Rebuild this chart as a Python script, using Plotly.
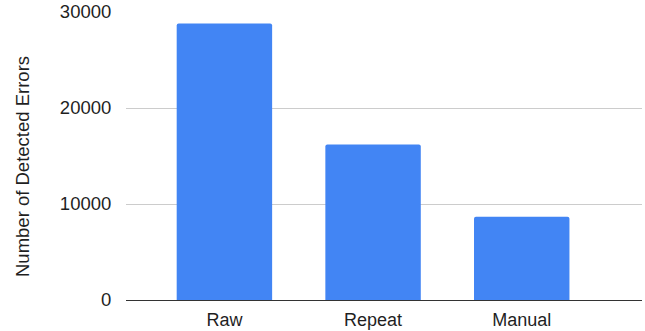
import plotly.graph_objects as go

categories = ["Raw", "Repeat", "Manual"]
detected_errors = [28800, 16200, 8660]
y_ticks = [0, 10000, 20000, 30000]

positions = list(range(len(categories)))

fig = go.Figure(
    go.Bar(
        x=positions,
        y=detected_errors,
        width=0.642,
        marker=dict(color="#4285F4", line=dict(width=0), cornerradius=2),
        hoverinfo="x+y",
    )
)

font_family = "Liberation Sans, Arial, sans-serif"

fig.update_layout(
    width=645,
    height=331,
    margin=dict(l=126, r=3, t=12, b=31, pad=0, autoexpand=False),
    paper_bgcolor="white",
    plot_bgcolor="white",
    showlegend=False,
    font=dict(family=font_family, color="#1f1f1f"),
    xaxis=dict(
        tickmode="array",
        tickvals=positions,
        ticktext=categories,
        range=[-0.662, 2.809],
        showgrid=False,
        zeroline=False,
        showline=False,
        ticks="outside",
        ticklen=3,
        tickcolor="rgba(0,0,0,0)",
        tickfont=dict(size=18, color="#1f1f1f"),
        automargin=False,
        fixedrange=True,
    ),
    yaxis=dict(
        range=[0, 30000],
        tickmode="array",
        tickvals=y_ticks,
        ticktext=[str(v) for v in y_ticks],
        showgrid=True,
        gridcolor="#cccccc",
        gridwidth=1,
        zeroline=True,
        zerolinecolor="#333333",
        zerolinewidth=1,
        showline=False,
        ticks="outside",
        ticklen=10,
        tickcolor="rgba(0,0,0,0)",
        tickfont=dict(size=18.5, color="#1f1f1f"),
        automargin=False,
        fixedrange=True,
    ),
    annotations=[
        dict(
            text="Number of Detected Errors",
            xref="paper",
            yref="paper",
            x=(22 - 126) / 516,
            y=(300 - 167) / 288,
            xanchor="center",
            yanchor="middle",
            textangle=-90,
            showarrow=False,
            font=dict(size=18.5, color="#1f1f1f", family=font_family),
        )
    ],
)

fig.write_html("out.html")
